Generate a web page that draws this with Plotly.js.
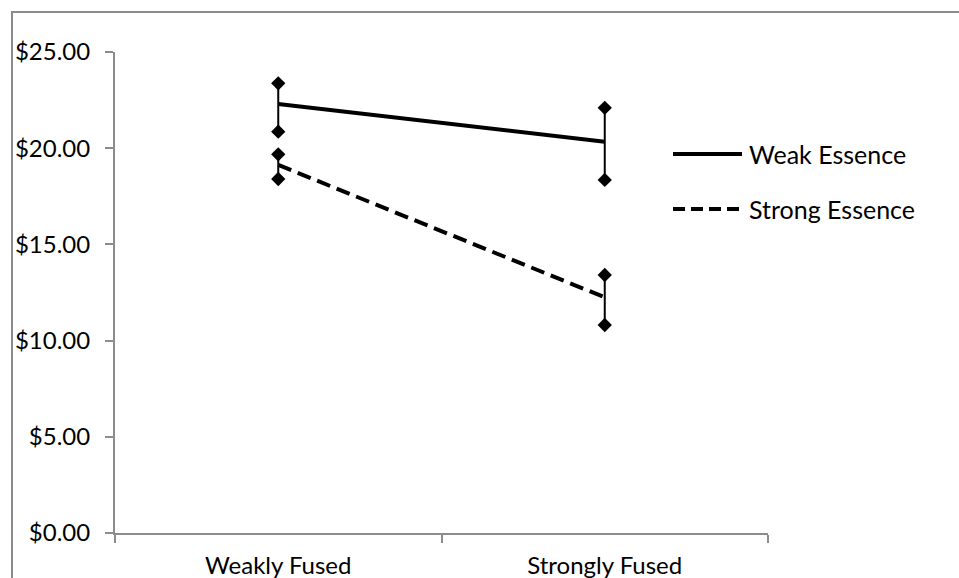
<!DOCTYPE html>
<html>
<head>
<meta charset="utf-8">
<script src="https://cdn.plot.ly/plotly-3.0.1.min.js"></script>
<style>
  html, body { margin: 0; padding: 0; background: #fff; overflow: hidden; }
  #chart { position: absolute; left: 0; top: 0; width: 959px; height: 578px; }
  #frame { position: absolute; left: 11px; top: 11px; width: 1000px; height: 700px;
           border: 2px solid #8c8c8c; pointer-events: none; box-sizing: border-box; }
</style>
</head>
<body>
<div id="chart"></div>
<div id="frame"></div>
<script>
// ---- data ----
const categories = ['Weakly Fused', 'Strongly Fused'];
const seriesNames = ['Weak Essence', 'Strong Essence'];
const weakMean = [22.3, 20.34];
const weakErrPlus = [1.07, 1.76];
const weakErrMinus = [1.44, 1.99];
const strongMean = [19.13, 12.25];
const strongErrPlus = [0.55, 1.16];
const strongErrMinus = [0.73, 1.44];
const yTickVals = [0, 5, 10, 15, 20, 25];
const yTickText = ['$0.00', '$5.00', '$10.00', '$15.00', '$20.00', '$25.00'];

const FONT = 'Lato, "Open Sans", sans-serif';

function seriesTraces(name, mean, plus, minus, dash) {
  const tops = mean.map((m, i) => m + plus[i]);
  const bottoms = mean.map((m, i) => m - minus[i]);
  return [
    {
      type: 'scatter', mode: 'lines', name: name, x: categories, y: mean,
      line: { color: '#000', width: 4, dash: dash },
      error_y: { type: 'data', symmetric: false, array: plus, arrayminus: minus,
                 color: '#000', thickness: 2, width: 0 },
      showlegend: false, hoverinfo: 'x+y'
    },
    {
      type: 'scatter', mode: 'markers', x: categories.concat(categories),
      y: tops.concat(bottoms),
      marker: { symbol: 'diamond', size: 11, color: '#000' },
      showlegend: false, hoverinfo: 'y'
    }
  ];
}

const traces = []
  .concat(seriesTraces(seriesNames[0], weakMean, weakErrPlus, weakErrMinus, 'solid'))
  .concat(seriesTraces(seriesNames[1], strongMean, strongErrPlus, strongErrMinus, '14px,7px'));

// custom legend (long line samples like the original)
const legendY = [154, 209];
const W = 959, H = 578;
const px = v => (v - 115) / (768 - 115);
const py = v => (533 - v) / (533 - 52);
const shapes = [
  { type: 'line', xref: 'paper', yref: 'paper', layer: 'above',
    x0: px(673), x1: px(742), y0: py(legendY[0]), y1: py(legendY[0]),
    line: { color: '#000', width: 4 } },
  { type: 'line', xref: 'paper', yref: 'paper', layer: 'above',
    x0: px(673), x1: px(744), y0: py(legendY[1]), y1: py(legendY[1]),
    line: { color: '#000', width: 4, dash: '12px,6px' } }
];
const annotations = seriesNames.map((n, i) => ({
  xref: 'paper', yref: 'paper', x: px(747), y: py(legendY[i]),
  xanchor: 'left', yanchor: 'middle', showarrow: false, text: n,
  font: { family: FONT, size: 25, color: '#000' }
}));

const layout = {
  width: W, height: H,
  margin: { l: 115, r: 191, t: 52, b: 45 },
  paper_bgcolor: '#fff', plot_bgcolor: '#fff',
  showlegend: false,
  font: { family: FONT, size: 24, color: '#000' },
  xaxis: {
    type: 'category', categoryorder: 'array', categoryarray: categories,
    range: [-0.5, 1.5], tickson: 'boundaries', ticks: 'outside', ticklen: 8,
    tickwidth: 2, tickcolor: '#8c8c8c', showline: true, linecolor: '#8c8c8c', linewidth: 2,
    showgrid: false, zeroline: false, ticklabelstandoff: 10,
    tickfont: { family: FONT, size: 24, color: '#000' }
  },
  yaxis: {
    range: [0, 25], tickvals: yTickVals, ticktext: yTickText,
    ticks: 'outside', ticklen: 8, tickwidth: 2, tickcolor: '#8c8c8c',
    showline: true, linecolor: '#8c8c8c', linewidth: 2, showgrid: false, zeroline: false,
    ticklabelstandoff: 10,
    tickfont: { family: FONT, size: 24, color: '#000' }
  },
  shapes: shapes,
  annotations: annotations
};

Plotly.newPlot('chart', traces, layout, { displayModeBar: false, staticPlot: true });
</script>
</body>
</html>
